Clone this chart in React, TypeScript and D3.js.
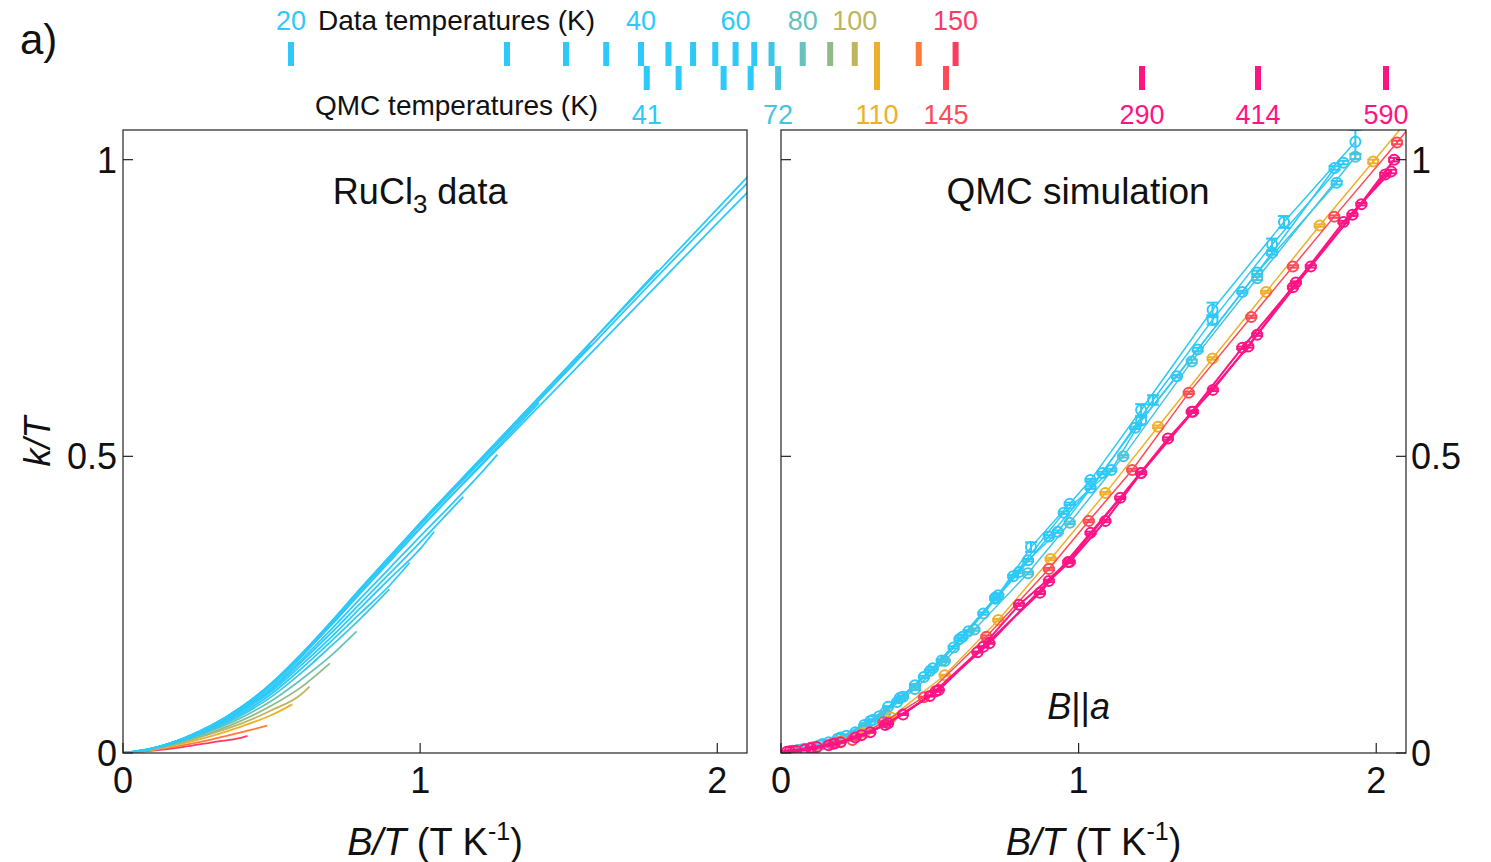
import React from 'react';
import * as d3 from 'd3';

// ---------- top strip: temperatures ----------
const dataTemps = [20, 25, 30, 35, 40, 45, 50, 55, 60, 65, 70, 80, 90, 100, 110, 130, 150];
const dataTempLabels = [20, 40, 60, 80, 100, 150];
const qmcTemps = [41, 47, 57, 64, 72, 110, 145, 290, 414, 590];
const qmcTempLabels = [41, 72, 110, 145, 290, 414, 590];
const tempKnots = [20, 25, 30, 40, 110, 145, 290, 414, 590];

// colour map over temperature
const colorStops = [65, 70, 80, 90, 100, 110, 130, 150, 290];
const colorValues = ['#2DC9F9', '#3DC6E6', '#66C2BC', '#90BA88', '#BEB55C', '#EDB02C', '#FF7B3A', '#FF3A62', '#FF1485'];

// ---------- axes ----------
const xTicks = [0, 1, 2];
const yTicks = [0, 0.5, 1];

// ---------- left panel: RuCl3 data, k/T vs B/T ----------
const gridB = [0, 0.1, 0.2, 0.3, 0.4, 0.5, 0.6, 0.7, 0.8, 0.9, 1.0, 1.2, 1.4, 1.6, 1.8, 2.0, 2.1, 2.2];
const dataK: number[][] = [
  [0, 0.008, 0.024, 0.046, 0.077, 0.115, 0.163, 0.216, 0.271, 0.325, 0.379, 0.482, 0.584, 0.687, 0.79, 0.893, 0.944, 0.995], // 20
  [0, 0.008, 0.024, 0.047, 0.078, 0.117, 0.166, 0.22, 0.277, 0.332, 0.387, 0.493, 0.599, 0.705, 0.811, 0.917, 0.97, 1.023], // 25
  [0, 0.008, 0.024, 0.047, 0.078, 0.116, 0.165, 0.218, 0.275, 0.329, 0.384, 0.489, 0.594, 0.699, 0.804, 0.908, 0.96], // 30
  [0, 0.008, 0.024, 0.047, 0.078, 0.118, 0.167, 0.221, 0.278, 0.333, 0.388, 0.494, 0.6, 0.706, 0.814], // 35
  [0, 0.008, 0.024, 0.047, 0.078, 0.117, 0.166, 0.219, 0.276, 0.33, 0.385, 0.49, 0.595], // 40
  [0, 0.008, 0.024, 0.046, 0.076, 0.114, 0.162, 0.215, 0.27, 0.324, 0.378, 0.484, 0.59], // 45
  [0, 0.008, 0.023, 0.045, 0.074, 0.11, 0.157, 0.208, 0.261, 0.313, 0.365, 0.469], // 50
  [0, 0.008, 0.023, 0.044, 0.072, 0.107, 0.153, 0.202, 0.253, 0.304, 0.355], // 55
  [0, 0.008, 0.023, 0.043, 0.07, 0.104, 0.148, 0.195, 0.245, 0.295, 0.344], // 60
  [0, 0.008, 0.022, 0.042, 0.067, 0.1, 0.142, 0.188, 0.236, 0.284], // 65
  [0, 0.007, 0.021, 0.04, 0.064, 0.095, 0.135, 0.18, 0.227], // 70
  [0, 0.007, 0.02, 0.038, 0.06, 0.088, 0.124, 0.164], // 80
  [0, 0.007, 0.019, 0.035, 0.055, 0.08, 0.111], // 90
  [0, 0.006, 0.018, 0.033, 0.05, 0.072, 0.099], // 100
  [0, 0.006, 0.016, 0.029, 0.045, 0.064], // 110
  [0, 0.005, 0.013, 0.023, 0.035], // 130
  [0, 0.004, 0.01, 0.018, 0.026], // 150
];
const dataEnd: (number[] | null)[] = [
  null, null, null, null, [1.575, 0.688], null, [1.26, 0.503], [1.145, 0.432], [1.047, 0.373],
  [0.965, 0.321], [0.896, 0.276], [0.786, 0.205], [0.696, 0.151], [0.628, 0.112], [0.57, 0.082],
  [0.485, 0.046], [0.419, 0.0287],
];

// ---------- right panel: QMC simulation ----------
const qmcB: number[][] = [
  [0.06, 0.13, 0.2, 0.28, 0.36, 0.45, 0.54, 0.63, 0.73, 0.84, 0.97, 1.04, 1.21, 1.45, 1.69, 1.93], // 41
  [0.08, 0.16, 0.25, 0.33, 0.41, 0.5, 0.6, 0.72, 0.83, 0.93, 1.08, 1.25, 1.45, 1.65, 1.89], // 47
  [0.05, 0.11, 0.19, 0.3, 0.4, 0.51, 0.61, 0.72, 0.78, 0.95, 1.11, 1.21, 1.33, 1.55, 1.65, 1.86], // 57
  [0.07, 0.14, 0.22, 0.31, 0.39, 0.48, 0.58, 0.68, 0.8, 0.9, 1.04, 1.19, 1.4, 1.6, 1.867], // 64
  [0.06, 0.12, 0.2, 0.28, 0.35, 0.45, 0.55, 0.65, 0.83, 0.97, 1.15, 1.38, 1.6, 1.93], // 72
  [0.05, 0.12, 0.2, 0.28, 0.37, 0.55, 0.73, 0.906, 1.09, 1.267, 1.45, 1.63, 1.81, 1.99, 2.17], // 110
  [0.04, 0.1, 0.17, 0.24, 0.345, 0.48, 0.69, 0.9, 1.034, 1.18, 1.37, 1.58, 1.72, 1.859, 2.07, 2.25], // 145
  [0.03, 0.1, 0.18, 0.27, 0.36, 0.53, 0.68, 0.87, 1.04, 1.21, 1.38, 1.55, 1.72, 1.89, 2.05], // 290
  [0.05, 0.12, 0.2, 0.3, 0.41, 0.52, 0.7, 0.9, 0.97, 1.09, 1.21, 1.384, 1.57, 1.73, 1.92, 2.06], // 414
  [0.02, 0.08, 0.16, 0.25, 0.35, 0.5, 0.66, 0.8, 0.965, 1.14, 1.3, 1.451, 1.6, 1.78, 1.95, 2.03], // 590
];
const qmcK: number[][] = [
  [0.005, 0.013, 0.026, 0.047, 0.078, 0.114, 0.156, 0.205, 0.266, 0.347, 0.42, 0.46, 0.578, 0.747, 0.895, 1.03],
  [0.007, 0.018, 0.035, 0.062, 0.095, 0.138, 0.192, 0.262, 0.325, 0.373, 0.472, 0.595, 0.73, 0.857, 0.995],
  [0.004, 0.01, 0.024, 0.054, 0.093, 0.143, 0.196, 0.26, 0.298, 0.405, 0.477, 0.56, 0.635, 0.777, 0.843, 0.986],
  [0.006, 0.015, 0.029, 0.056, 0.086, 0.128, 0.178, 0.235, 0.305, 0.365, 0.447, 0.548, 0.68, 0.81, 0.961],
  [0.005, 0.011, 0.024, 0.043, 0.068, 0.108, 0.155, 0.208, 0.303, 0.388, 0.5, 0.66, 0.8, 1.005],
  [0.004, 0.011, 0.02, 0.034, 0.06, 0.131, 0.224, 0.327, 0.438, 0.55, 0.665, 0.777, 0.889, 0.997, 1.105],
  [0.004, 0.009, 0.015, 0.022, 0.052, 0.094, 0.196, 0.31, 0.391, 0.477, 0.607, 0.735, 0.82, 0.904, 1.029, 1.14],
  [0.003, 0.008, 0.016, 0.03, 0.05, 0.106, 0.179, 0.27, 0.371, 0.472, 0.575, 0.683, 0.785, 0.895, 0.98],
  [0.004, 0.01, 0.018, 0.035, 0.065, 0.104, 0.185, 0.29, 0.322, 0.391, 0.472, 0.575, 0.685, 0.793, 0.907, 1.0],
  [0.002, 0.006, 0.013, 0.026, 0.047, 0.096, 0.17, 0.25, 0.322, 0.43, 0.53, 0.612, 0.705, 0.82, 0.925, 0.975],
];
const qmcErr: number[][] = [
  [0.001, 0.001, 0.001, 0.001, 0.001, 0.002, 0.002, 0.002, 0.002, 0.008, 0.002, 0.002, 0.01, 0.012, 0.01, 0.02],
  [0.001, 0.001, 0.001, 0.001, 0.002, 0.002, 0.002, 0.002, 0.002, 0.002, 0.002, 0.008, 0.008, 0.01, 0.003],
  [0.001, 0.001, 0.001, 0.001, 0.002, 0.002, 0.002, 0.002, 0.002, 0.002, 0.002, 0.006, 0.002, 0.002, 0.003, 0.003],
  [0.001, 0.001, 0.001, 0.001, 0.002, 0.002, 0.002, 0.002, 0.002, 0.002, 0.002, 0.002, 0.003, 0.003, 0.003],
  [0.001, 0.001, 0.001, 0.001, 0.002, 0.002, 0.002, 0.002, 0.002, 0.002, 0.002, 0.003, 0.003, 0.004],
  [0.001, 0.001, 0.001, 0.001, 0.001, 0.001, 0.002, 0.002, 0.002, 0.002, 0.002, 0.002, 0.002, 0.003, 0.003],
  [0.001, 0.001, 0.001, 0.001, 0.001, 0.001, 0.002, 0.002, 0.002, 0.002, 0.002, 0.002, 0.002, 0.002, 0.003, 0.003],
  [0.001, 0.001, 0.001, 0.001, 0.001, 0.001, 0.001, 0.002, 0.002, 0.002, 0.002, 0.002, 0.002, 0.002, 0.003],
  [0.001, 0.001, 0.001, 0.001, 0.001, 0.001, 0.001, 0.002, 0.002, 0.002, 0.002, 0.002, 0.002, 0.002, 0.002, 0.003],
  [0.001, 0.001, 0.001, 0.001, 0.001, 0.001, 0.001, 0.002, 0.002, 0.002, 0.002, 0.002, 0.002, 0.002, 0.002, 0.003],
];

const FONT = '"Liberation Sans", Arial, Helvetica, sans-serif';

export default function App() {
  const W = 1491;
  const H = 862;
  const top = 130;
  const bottom = 753;
  const xL = d3.scaleLinear().domain([0, 2.1]).range([123, 747]);
  const xR = d3.scaleLinear().domain([0, 2.1]).range([781, 1406]);
  const y = d3.scaleLinear().domain([0, 1.05]).range([bottom, top]);
  const tScale = d3.scaleLog().domain(tempKnots).range([291, 507, 566, 641, 877, 946, 1142, 1258, 1386]);
  const tColor = d3.scaleLinear<string>().domain(colorStops).range(colorValues).clamp(true);

  const lineL = d3
    .line<number[]>()
    .x((d) => xL(d[0]))
    .y((d) => y(d[1]))
    .curve(d3.curveMonotoneX);
  const lineR = d3
    .line<number[]>()
    .x((d) => xR(d[0]))
    .y((d) => y(d[1]));

  const dataSeries = dataK.map((ks, i) => {
    const pts = ks.map((k, j) => [gridB[j], k]);
    const end = dataEnd[i];
    if (end) pts.push(end);
    return { T: dataTemps[i], pts };
  });
  const qmcSeries = qmcB.map((bs, i) => ({
    T: qmcTemps[i],
    pts: bs.map((b, j) => [b, qmcK[i][j], qmcErr[i][j]]),
  }));

  const axisColor = '#222';
  const tickLen = 10;
  const fs = 36;

  return (
    <svg width={W} height={H} style={{ position: 'absolute', left: 0, top: 0, background: '#fff' }} fontFamily={FONT}>
      <defs>
        <clipPath id="clipL">
          <rect x={xL(0)} y={top} width={xL(2.1) - xL(0)} height={bottom - top} />
        </clipPath>
        <clipPath id="clipR">
          <rect x={xR(0)} y={top} width={xR(2.1) - xR(0)} height={bottom - top} />
        </clipPath>
      </defs>
      <rect width={W} height={H} fill="#fff" />

      {/* panel label */}
      <text x={20} y={54} fontSize={42} fill="#111">a)</text>

      {/* top strip: data temperatures */}
      {dataTempLabels.map((t) => (
        <text key={'dl' + t} x={tScale(t)} y={30} fontSize={27} textAnchor="middle" fill={tColor(t)}>
          {t}
        </text>
      ))}
      <text x={318} y={30} fontSize={28} fill="#111">Data temperatures (K)</text>
      {dataTemps.map((t) => (
        <rect key={'dt' + t} x={tScale(t) - 3} y={42} width={6} height={24} fill={tColor(t)} />
      ))}
      {qmcTemps.map((t) => (
        <rect key={'qt' + t} x={tScale(t) - 3} y={66} width={6} height={24} fill={tColor(t)} />
      ))}
      <text x={315} y={115} fontSize={28} fill="#111">QMC temperatures (K)</text>
      {qmcTempLabels.map((t) => (
        <text key={'ql' + t} x={tScale(t)} y={124} fontSize={27} textAnchor="middle" fill={tColor(t)}>
          {t}
        </text>
      ))}

      {/* ---------- left panel ---------- */}
      <g clipPath="url(#clipL)">
        {dataSeries
          .slice()
          .reverse()
          .map((s) => (
            <path key={'dc' + s.T} d={lineL(s.pts) || ''} fill="none" stroke={tColor(s.T)} strokeWidth={1.8} />
          ))}
      </g>
      <rect x={xL(0)} y={top} width={xL(2.1) - xL(0)} height={bottom - top} fill="none" stroke={axisColor} strokeWidth={1.2} />
      {yTicks.map((t) => (
        <g key={'lyt' + t}>
          <line x1={xL(0)} x2={xL(0) + tickLen} y1={y(t)} y2={y(t)} stroke={axisColor} strokeWidth={1.2} />
          <text x={xL(0) - 6} y={y(t)} dy="0.36em" fontSize={fs} textAnchor="end" fill="#111">
            {t}
          </text>
        </g>
      ))}
      {xTicks.map((t) => (
        <g key={'lxt' + t}>
          <line x1={xL(t)} x2={xL(t)} y1={bottom} y2={bottom - tickLen} stroke={axisColor} strokeWidth={1.2} />
          <text x={xL(t)} y={793} fontSize={fs} textAnchor="middle" fill="#111">
            {t}
          </text>
        </g>
      ))}
      <text x={xL(1)} y={204} fontSize={fs} textAnchor="middle" fill="#111">
        RuCl<tspan dy={9} fontSize={26}>3</tspan>
        <tspan dy={-9}> data</tspan>
      </text>
      <text x={(xL(0) + xL(2.1)) / 2} y={855} fontSize={38} textAnchor="middle" fill="#111">
        <tspan fontStyle="italic">B/T</tspan> (T K<tspan dy={-15} fontSize={25}>-1</tspan>
        <tspan dy={15}>)</tspan>
      </text>
      <text
        transform={`translate(50, ${(top + bottom) / 2}) rotate(-90)`}
        fontSize={fs}
        textAnchor="middle"
        fill="#111"
        fontStyle="italic"
      >
        k/T
      </text>

      {/* ---------- right panel ---------- */}
      <g clipPath="url(#clipR)">
        {qmcSeries.map((s) => {
          const c = tColor(s.T);
          const heavy = s.T >= 290;
          return (
            <g key={'qs' + s.T}>
              <path d={lineR(s.pts) || ''} fill="none" stroke={c} strokeWidth={heavy ? 2 : 1.5} />
              {s.pts.map((p, j) => {
                const cx = xR(p[0]);
                const cy = y(p[1]);
                const y1 = y(p[1] + p[2]);
                const y2 = y(p[1] - p[2]);
                return (
                  <g key={j} stroke={c} strokeWidth={2} fill="none">
                    <circle cx={cx} cy={cy} r={5} />
                    <line x1={cx} x2={cx} y1={y1} y2={y2} />
                    <line x1={cx - 6} x2={cx + 6} y1={y1} y2={y1} />
                    <line x1={cx - 6} x2={cx + 6} y1={y2} y2={y2} />
                  </g>
                );
              })}
            </g>
          );
        })}
      </g>
      <rect x={xR(0)} y={top} width={xR(2.1) - xR(0)} height={bottom - top} fill="none" stroke={axisColor} strokeWidth={1.2} />
      {yTicks.map((t) => (
        <g key={'ryt' + t}>
          <line x1={xR(0)} x2={xR(0) + tickLen} y1={y(t)} y2={y(t)} stroke={axisColor} strokeWidth={1.2} />
          <line x1={xR(2.1)} x2={xR(2.1) - tickLen} y1={y(t)} y2={y(t)} stroke={axisColor} strokeWidth={1.2} />
          <text x={xR(2.1) + 5} y={y(t)} dy="0.36em" fontSize={fs} textAnchor="start" fill="#111">
            {t}
          </text>
        </g>
      ))}
      {xTicks.map((t) => (
        <g key={'rxt' + t}>
          <line x1={xR(t)} x2={xR(t)} y1={bottom} y2={bottom - tickLen} stroke={axisColor} strokeWidth={1.2} />
          <text x={xR(t)} y={793} fontSize={fs} textAnchor="middle" fill="#111">
            {t}
          </text>
        </g>
      ))}
      <text x={1078} y={204} fontSize={37} textAnchor="middle" fill="#111">
        QMC simulation
      </text>
      <text x={xR(1)} y={719} fontSize={fs} textAnchor="middle" fill="#111">
        <tspan fontStyle="italic">B</tspan>||<tspan fontStyle="italic">a</tspan>
      </text>
      <text x={(xR(0) + xR(2.1)) / 2} y={855} fontSize={38} textAnchor="middle" fill="#111">
        <tspan fontStyle="italic">B/T</tspan> (T K<tspan dy={-15} fontSize={25}>-1</tspan>
        <tspan dy={15}>)</tspan>
      </text>
    </svg>
  );
}
